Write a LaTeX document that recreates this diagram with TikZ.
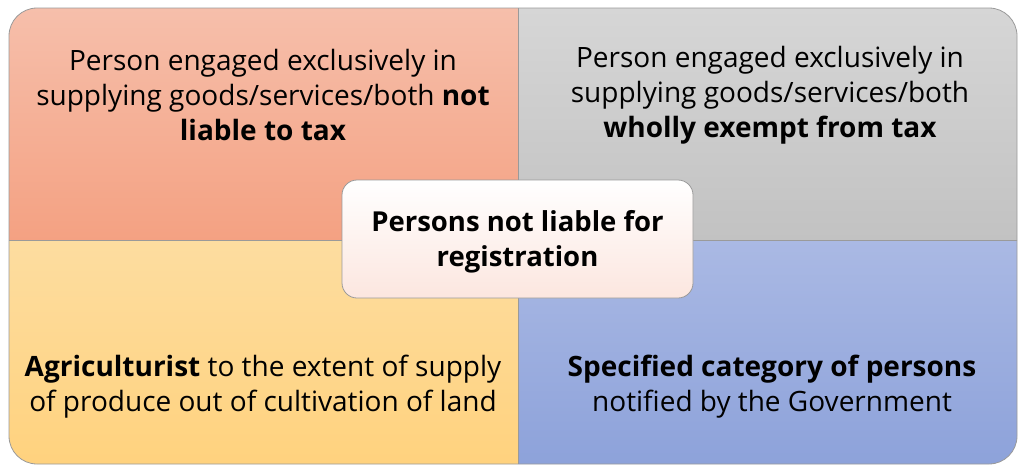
\documentclass[tikz,border=0pt]{standalone}
\usepackage{fontspec}
\setmainfont{Open Sans}
\definecolor{tlTop}{HTML}{F6BFAB}
\definecolor{tlBot}{HTML}{F4A182}
\definecolor{trTop}{HTML}{D6D6D6}
\definecolor{trBot}{HTML}{C2C2C2}
\definecolor{blTop}{HTML}{FDDDA0}
\definecolor{blBot}{HTML}{FFD27E}
\definecolor{brTop}{HTML}{AAB9E4}
\definecolor{brBot}{HTML}{8DA2DA}
\definecolor{cBot}{HTML}{FCE6DF}
\definecolor{edge}{HTML}{9A9A9A}
\tikzset{
  txt/.style={align=center, font=\fontsize{28}{35}\selectfont, text=black, inner sep=0pt},
  centerbox/.style={draw=edge, line width=0.8pt, rounded corners=15pt, top color=white, bottom color=cBot,
    minimum width=351pt, minimum height=118pt},
  centertxt/.style={align=center, inner sep=0pt, font=\bfseries\fontsize{27.5}{35}\selectfont},
}
\begin{document}
\begin{tikzpicture}[x=1pt,y=-1pt]
\useasboundingbox (0,0) rectangle (1019,466);
\begin{scope}
\clip[rounded corners=28pt] (9,8) rectangle (1017,464);
\shade[top color=tlTop,bottom color=tlBot] (9,8) rectangle (518,240);
\shade[top color=trTop,bottom color=trBot] (518,8) rectangle (1017,240);
\shade[top color=blTop,bottom color=blBot] (9,240) rectangle (518,464);
\shade[top color=brTop,bottom color=brBot] (518,240) rectangle (1017,464);
\draw[edge, line width=0.6pt] (518,8) -- (518,464);
\draw[edge, line width=0.6pt] (9,240) -- (1017,240);
\end{scope}
\draw[edge, line width=0.8pt, rounded corners=28pt] (9,8) rectangle (1017,464);
\node[txt] (tl) at (263,95) {Person engaged exclusively in\\supplying goods/services/both \textbf{not}\\\textbf{liable to tax}};
\node[txt] (tr) at (770,95) {Person engaged exclusively in\\supplying goods/services/both\\\textbf{wholly exempt from tax}};
\node[txt] (bl) at (263,387) {\textbf{Agriculturist} to the extent of supply\\of produce out of cultivation of land};
\node[txt] (br) at (772,387) {\textbf{Specified category of persons}\\notified by the Government};
\node[centerbox] (c) at (517.5,239) {};
\node[centertxt] (ct) at (517.5,242) {Persons not liable for\\registration};
\end{tikzpicture}
\end{document}
